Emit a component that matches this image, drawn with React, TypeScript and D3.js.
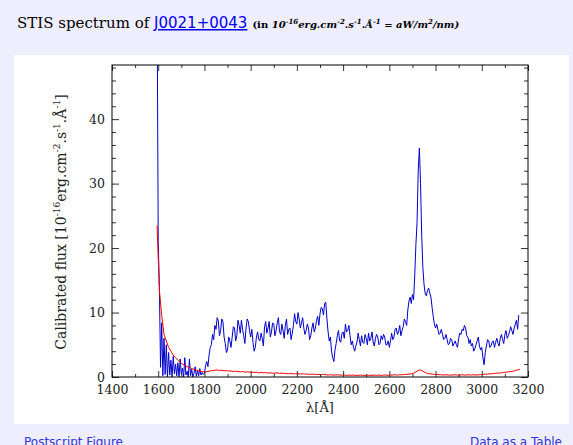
import React, { useRef, useEffect } from "react";
import * as d3 from "d3";

// blue flux, 5 A steps from 1595 to 1795 (noisy blue edge)
const blueEdgeFlux = [
  60, 21, 14, 1.5, 8.4, 0.2, 6.0, 0.4, 5.0, 0.0,
  3.8, 0.3, 2.6, 0.0, 3.2, 0.5, 2.0, 0.2, 2.2, 0.0,
  2.8, 0.4, 1.4, 0.0, 3.0, 0.3, 0.9, 0.0, 2.8, 0.2,
  1.2, 0.0, 0.6, 1.6, 0.1, 1.0, 0.2, 1.3, 0.3, 0.7,
  0.4,
];

// blue flux, 5 A steps from 1800 to 3160
const blueFlux = [
  0.6, 1.8, 2.4, 1.6, 3.4, 4.6, 5.0, 6.6, 5.8, 8.0, 7.4, 9.2, 8.8, 6.4, 7.2, 9.0, 8.6, 6.2, 5.2, 3.8,
  4.2, 6.2, 5.6, 4.6, 6.2, 7.8, 7.6, 5.6, 6.4, 8.8, 8.0, 6.8, 8.8, 7.4, 6.4, 5.2, 7.6, 9.0, 8.6, 7.2,
  6.2, 7.4, 5.4, 4.0, 4.6, 6.2, 7.0, 5.8, 5.6, 6.8, 6.0, 4.8, 7.8, 8.6, 6.8, 7.6, 8.6, 6.2, 7.0, 8.4,
  8.2, 6.4, 7.2, 8.4, 9.2, 7.0, 6.6, 8.2, 7.2, 6.0, 8.0, 9.0, 6.6, 7.4, 7.6, 5.8, 6.8, 8.0, 9.8, 8.6,
  8.2, 10.0, 9.0, 7.6, 8.4, 9.2, 7.6, 6.6, 7.2, 8.2, 7.6, 5.8, 6.4, 7.6, 8.4, 7.0, 7.6, 8.8, 9.4, 8.0,
  9.8, 10.8, 10.6, 9.6, 11.4, 11.6, 9.0, 7.0, 5.6, 6.2, 4.0, 3.0, 2.4, 4.2, 5.2, 6.4, 7.2, 5.6, 5.4, 6.8,
  7.0, 6.0, 8.2, 7.0, 7.2, 8.0, 6.4, 5.0, 5.6, 4.6, 4.0, 4.8, 5.4, 6.8, 5.8, 4.8, 6.4, 5.4, 5.2, 6.6,
  6.0, 5.0, 6.8, 5.6, 6.0, 7.0, 5.4, 4.8, 6.0, 6.6, 6.2, 5.0, 5.2, 6.4, 5.8, 6.6, 6.2, 5.0, 5.0, 5.6,
  4.6, 5.6, 6.8, 5.8, 6.2, 7.4, 7.6, 6.6, 7.0, 8.0, 6.4, 7.2, 7.8, 9.0, 8.6, 8.0, 10.4, 11.8, 12.4, 11.4,
  12.8, 12.0, 15.8, 20.6, 24.0, 32.0, 35.5, 30.0, 22.0, 17.0, 14.4, 13.0, 12.6, 13.4, 13.8, 13.0, 12.4, 10.8, 9.4, 8.2,
  7.6, 8.2, 7.4, 6.6, 6.8, 7.4, 6.6, 5.8, 6.0, 6.6, 5.8, 5.0, 5.2, 6.0, 5.8, 4.8, 5.2, 5.6, 5.0, 4.6,
  6.0, 6.8, 6.6, 7.4, 7.2, 8.0, 7.6, 6.4, 6.2, 5.2, 5.8, 4.8, 5.2, 4.0, 4.4, 5.0, 5.6, 6.2, 4.8, 4.2,
  4.6, 3.0, 1.9, 3.8, 4.8, 5.8, 5.6, 4.6, 4.8, 5.4, 5.6, 4.6, 5.4, 6.0, 5.2, 4.8, 6.0, 6.6, 5.8, 5.2,
  6.6, 7.2, 6.0, 6.4, 7.0, 7.8, 7.2, 6.6, 7.6, 8.2, 8.8, 7.4, 9.6,
];

// error (red), 10 A steps from 1595 to 3165
const errFlux = [
  23.5, 13.5, 9.6, 6.6, 5.6, 4.6, 4.0, 3.4, 3.0, 2.6,
  2.3, 2.0, 1.8, 1.6, 1.5, 1.3, 1.2, 1.05, 0.95, 0.85,
  0.8, 0.8, 0.85, 0.95, 1.0, 1.05, 1.1, 1.0, 1.05, 0.95,
  1.0, 0.9, 0.95, 0.85, 0.9, 0.85, 0.8, 0.85, 0.75, 0.8,
  0.75, 0.75, 0.7, 0.75, 0.65, 0.7, 0.65, 0.7, 0.6, 0.65,
  0.6, 0.6, 0.65, 0.55, 0.6, 0.55, 0.55, 0.5, 0.55, 0.5,
  0.5, 0.5, 0.45, 0.5, 0.45, 0.45, 0.4, 0.45, 0.4, 0.4,
  0.4, 0.35, 0.4, 0.35, 0.3, 0.35, 0.3, 0.3, 0.35, 0.3,
  0.3, 0.3, 0.25, 0.3, 0.25, 0.3, 0.25, 0.25, 0.3, 0.25,
  0.25, 0.3, 0.25, 0.25, 0.3, 0.25, 0.3, 0.25, 0.3, 0.3,
  0.25, 0.3, 0.3, 0.35, 0.3, 0.35, 0.35, 0.4, 0.4, 0.45,
  0.5, 0.6, 0.8, 1.0, 1.1, 0.9, 0.7, 0.55, 0.5, 0.45,
  0.4, 0.4, 0.35, 0.35, 0.3, 0.35, 0.3, 0.3, 0.3, 0.35,
  0.3, 0.3, 0.35, 0.3, 0.3, 0.35, 0.3, 0.35, 0.3, 0.35,
  0.35, 0.4, 0.45, 0.45, 0.5, 0.5, 0.55, 0.6, 0.6, 0.65,
  0.7, 0.75, 0.8, 0.85, 0.9, 1.0, 1.1, 1.2,
];

const xTicks = [1400, 1600, 1800, 2000, 2200, 2400, 2600, 2800, 3000, 3200];
const xMinor = [1500, 1700, 1900, 2100, 2300, 2500, 2700, 2900, 3100];
const yTicks = [0, 10, 20, 30, 40];
const yMinor = [2, 4, 6, 8, 12, 14, 16, 18, 22, 24, 26, 28, 32, 34, 36, 38, 42, 44, 46, 48];

const serif = "'DejaVu Serif', serif";
const sans = "'DejaVu Sans', sans-serif";

function Spectrum() {
  const svgRef = useRef<SVGSVGElement>(null);

  useEffect(() => {
    const svg = d3.select(svgRef.current);
    const left = 112, right = 528, top = 65, bottom = 377;

    const x = d3.scaleLinear().domain([1400, 3200]).range([left, right]);
    const y = d3.scaleLinear().domain([0, 48.4]).range([bottom, top]);

    const blue = [
      ...blueEdgeFlux.map((v, i) => [1595 + i * 5, v]),
      ...blueFlux.map((v, i) => [1800 + i * 5, v]),
    ];
    const err = errFlux.map((v, i) => [1595 + i * 10, v]);

    const path = d3.line<number[]>().x((d) => x(d[0])).y((d) => y(d[1]));

    const plot = svg.select(".plot");
    plot.selectAll("*").remove();

    plot.append("path")
      .attr("d", path(blue))
      .attr("fill", "none")
      .attr("stroke", "#0000cc")
      .attr("stroke-width", 1)
      .attr("clip-path", "url(#plotclip)");

    plot.append("path")
      .attr("d", path(err))
      .attr("fill", "none")
      .attr("stroke", "#ff0000")
      .attr("stroke-width", 1)
      .attr("clip-path", "url(#plotclip)");

    const axes = svg.select(".axes");
    axes.selectAll("*").remove();

    const style = (g) => {
      g.select(".domain").remove();
      g.selectAll(".tick line").attr("stroke", "#333");
      g.selectAll(".tick text")
        .attr("fill", "#222")
        .style("font-family", serif)
        .style("font-size", "12.5px");
    };

    axes.append("g").attr("transform", `translate(0,${bottom})`)
      .call(d3.axisBottom(x).tickValues(xTicks).tickFormat(d3.format("d")).tickSizeInner(-6).tickSizeOuter(0).tickPadding(8))
      .call(style);
    axes.append("g").attr("transform", `translate(0,${bottom})`)
      .call(d3.axisBottom(x).tickValues(xMinor).tickFormat(() => "").tickSizeInner(-3).tickSizeOuter(0))
      .call(style);
    axes.append("g").attr("transform", `translate(0,${top})`)
      .call(d3.axisTop(x).tickValues(xTicks).tickFormat(() => "").tickSizeInner(-6).tickSizeOuter(0))
      .call(style);
    axes.append("g").attr("transform", `translate(0,${top})`)
      .call(d3.axisTop(x).tickValues(xMinor).tickFormat(() => "").tickSizeInner(-3).tickSizeOuter(0))
      .call(style);
    axes.append("g").attr("transform", `translate(${left},0)`)
      .call(d3.axisLeft(y).tickValues(yTicks).tickFormat(d3.format("d")).tickSizeInner(-7).tickSizeOuter(0).tickPadding(7))
      .call(style);
    axes.append("g").attr("transform", `translate(${left},0)`)
      .call(d3.axisLeft(y).tickValues(yMinor).tickFormat(() => "").tickSizeInner(-4).tickSizeOuter(0))
      .call(style);
    axes.append("g").attr("transform", `translate(${right},0)`)
      .call(d3.axisRight(y).tickValues(yTicks).tickFormat(() => "").tickSizeInner(-7).tickSizeOuter(0))
      .call(style);
    axes.append("g").attr("transform", `translate(${right},0)`)
      .call(d3.axisRight(y).tickValues(yMinor).tickFormat(() => "").tickSizeInner(-4).tickSizeOuter(0))
      .call(style);

    axes.append("rect")
      .attr("x", left).attr("y", top)
      .attr("width", right - left).attr("height", bottom - top)
      .attr("fill", "none").attr("stroke", "#000").attr("stroke-width", 1);
  }, []);

  return (
    <svg ref={svgRef} width={573} height={445} style={{ position: "absolute", left: 0, top: 0, display: "block" }}>
      <defs>
        <clipPath id="plotclip">
          <rect x={112} y={65} width={416} height={312} />
        </clipPath>
      </defs>
      <rect width={573} height={445} fill="#eeeeff" />
      <rect x={14} y={55} width={555} height={369} fill="#ffffff" />

      <text x={17} y={28} fontFamily={serif} fontSize={15} fill="#000">
        <tspan>STIS spectrum of </tspan>
        <a href="#">
          <tspan fontFamily={sans} fill="#0000ee" style={{ textDecoration: "underline" }}>J0021+0043</tspan>
        </a>
        <tspan fontSize={10} fontWeight="bold" dx={5}>(in </tspan>
        <tspan fontSize={10} fontWeight="bold" fontStyle="italic">10</tspan>
        <tspan fontSize={7} fontWeight="bold" fontStyle="italic" dy={-4}>-16</tspan>
        <tspan fontSize={10} fontWeight="bold" fontStyle="italic" dy={4}>erg.cm</tspan>
        <tspan fontSize={7} fontWeight="bold" fontStyle="italic" dy={-4}>-2</tspan>
        <tspan fontSize={10} fontWeight="bold" fontStyle="italic" dy={4}>.s</tspan>
        <tspan fontSize={7} fontWeight="bold" fontStyle="italic" dy={-4}>-1</tspan>
        <tspan fontSize={10} fontWeight="bold" fontStyle="italic" dy={4}>.Å</tspan>
        <tspan fontSize={7} fontWeight="bold" fontStyle="italic" dy={-4}>-1</tspan>
        <tspan fontSize={10} fontWeight="bold" fontStyle="italic" dy={4}> = aW/m</tspan>
        <tspan fontSize={7} fontWeight="bold" fontStyle="italic" dy={-4}>2</tspan>
        <tspan fontSize={10} fontWeight="bold" fontStyle="italic" dy={4}>/nm)</tspan>
      </text>

      <g className="plot" />
      <g className="axes" />

      <text transform="translate(66,222) rotate(-90)" textAnchor="middle" fontFamily={serif} fontSize={14} fill="#222">
        <tspan>Calibrated flux [10</tspan>
        <tspan fontSize={9} dy={-6}>-16</tspan>
        <tspan dy={6}>erg.cm</tspan>
        <tspan fontSize={9} dy={-6}>-2</tspan>
        <tspan dy={6}>.s</tspan>
        <tspan fontSize={9} dy={-6}>-1</tspan>
        <tspan dy={6}>.Å</tspan>
        <tspan fontSize={9} dy={-6}>-1</tspan>
        <tspan dy={6}>]</tspan>
      </text>
      <text x={320} y={412} textAnchor="middle" fontFamily={serif} fontSize={13} fill="#222">λ[Å]</text>

      <a href="#">
        <text x={24} y={446} fontFamily={sans} fontSize={12} fill="#3333dd">Postscript Figure</text>
      </a>
      <a href="#">
        <text x={562} y={446} textAnchor="end" fontFamily={sans} fontSize={12} fill="#3333dd">Data as a Table</text>
      </a>
    </svg>
  );
}

export default function App() {
  return <Spectrum />;
}
